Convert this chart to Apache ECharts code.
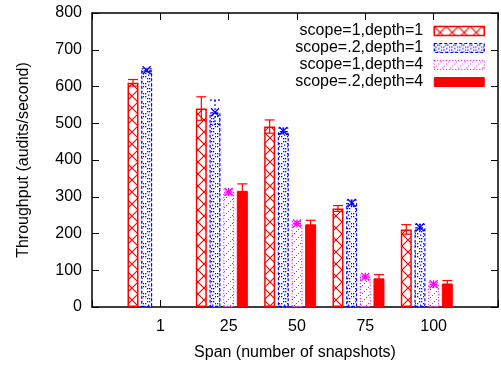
<!DOCTYPE html>
<html>
<head>
<meta charset="utf-8">
<script src="https://cdn.jsdelivr.net/npm/echarts@6/dist/echarts.min.js"></script>
<style>html,body{margin:0;padding:0;background:#fff}#c{width:501px;height:366px}</style>
</head>
<body>
<div id="c"></div>
<script>
// ---- data ----
const categories = ['1', '25', '50', '75', '100'];
const seriesNames = ['scope=1,depth=1', 'scope=.2,depth=1', 'scope=1,depth=4', 'scope=.2,depth=4'];
const s1d1 = [610, 540, 491, 268, 211];
const s1d1Err = [9, 32, 18, 8, 13];
const s2d1 = [644, 530, 479, 283, 217];
const s2d1Err = [4, 33, 8, 8, 8];
const s1d4 = [null, 313, 227, 82, 62];
const s1d4Err = [null, 6, 5, 5, 5];
const s2d4 = [null, 316, 225, 78, 64];
const s2d4Err = [null, 19, 11, 10, 8];
const yTicks = [0, 100, 200, 300, 400, 500, 600, 700, 800];

const FONT = 'Liberation Sans, Arial, Helvetica, sans-serif';
const RED = '#ff0000', BLUE = '#0000ff', MAG = '#ff00ff';

function tile(w, h, draw) {
  const c = document.createElement('canvas');
  c.width = w; c.height = h;
  const g = c.getContext('2d');
  g.fillStyle = '#fff'; g.fillRect(0, 0, w, h);
  draw(g);
  return { image: c, repeat: 'repeat' };
}
const redHatch = tile(12, 12, g => {
  g.strokeStyle = RED; g.lineWidth = 1.2;
  g.beginPath(); g.moveTo(0, 0); g.lineTo(12, 12); g.moveTo(12, 0); g.lineTo(0, 12); g.stroke();
});
const blueDots = tile(8, 10, g => {
  g.fillStyle = BLUE;
  const pts = [[3,1],[5,1],[1,3],[7,3],[1,6],[7,6],[3,8],[5,8],[4,4.5]];
  pts.forEach(p => g.fillRect(p[0], p[1], 1.3, 1.3));
});
const magDots = tile(8, 8, g => {
  g.fillStyle = MAG;
  const pts = [[0,7],[2,5],[4,3],[6,1]];
  pts.forEach(p => g.fillRect(p[0], p[1], 1, 1));
});
const solidRed = RED;

const fills = [redHatch, blueDots, magDots, solidRed];
const borders = [
  { borderColor: RED, borderWidth: 1.5, borderType: 'solid' },
  { borderColor: BLUE, borderWidth: 1.2, borderType: [3, 2] },
  { borderColor: MAG, borderWidth: 1.2, borderType: [1, 2] },
  { borderColor: RED, borderWidth: 1, borderType: 'solid' }
];
const values = [s1d1, s2d1, s1d4, s2d4];
const errs = [s1d1Err, s2d1Err, s1d4Err, s2d4Err];
const OFFSET = 0.2; // spacing of bars within a group (axis units)

const barSeries = values.map((vals, si) => ({
  type: 'bar',
  name: seriesNames[si],
  xAxisIndex: 0, yAxisIndex: 0,
  barWidth: 11,
  barGap: '-100%',
  itemStyle: Object.assign({ color: fills[si] }, borders[si]),
  emphasis: { disabled: true },
  data: vals.map((v, i) => v == null ? [i + (si - 2) * OFFSET, '-'] : [i + (si - 2) * OFFSET, v]),
  z: 2
}));

const errSeries = values.map((vals, si) => ({
  type: 'custom',
  name: seriesNames[si] + ' err',
  xAxisIndex: 0, yAxisIndex: 0,
  z: 5,
  silent: true,
  data: vals.map((v, i) => v == null ? null : [i + (si - 2) * OFFSET, v - errs[si][i], v + errs[si][i], v]).filter(d => d),
  renderItem: function (params, api) {
    const x = api.value(0);
    const lo = api.coord([x, api.value(1)]);
    const hi = api.coord([x, api.value(2)]);
    const mid = api.coord([x, api.value(3)]);
    const color = [RED, BLUE, MAG, RED][si];
    const dash = si === 1 ? [2, 2] : (si === 2 ? [1, 1] : null);
    const style = { stroke: color, lineWidth: 1.2, lineDash: dash };
    const cw = 5;
    const ch = [];
    ch.push({ type: 'line', shape: { x1: hi[0], y1: hi[1], x2: lo[0], y2: lo[1] }, style });
    ch.push({ type: 'line', shape: { x1: hi[0] - cw, y1: hi[1], x2: hi[0] + cw, y2: hi[1] }, style });
    ch.push({ type: 'line', shape: { x1: lo[0] - cw, y1: lo[1], x2: lo[0] + cw, y2: lo[1] }, style });
    if (si === 1 || si === 2) {
      const s = 4;
      const ms = { stroke: color, lineWidth: 1.3 };
      ch.push({ type: 'line', shape: { x1: mid[0] - s, y1: mid[1] - s, x2: mid[0] + s, y2: mid[1] + s }, style: ms });
      ch.push({ type: 'line', shape: { x1: mid[0] - s, y1: mid[1] + s, x2: mid[0] + s, y2: mid[1] - s }, style: ms });
      if (si === 2) {
        ch.push({ type: 'line', shape: { x1: mid[0], y1: mid[1] - s, x2: mid[0], y2: mid[1] + s }, style: ms });
        ch.push({ type: 'line', shape: { x1: mid[0] - s, y1: mid[1], x2: mid[0] + s, y2: mid[1] }, style: ms });
      }
    }
    return { type: 'group', children: ch };
  }
}));

const XMIN = -1, XMAX = 4.942;
const tickStyle = { show: true, inside: true, length: 7, lineStyle: { color: '#000', width: 1 } };
const lineStyle = { show: true, onZero: false, lineStyle: { color: '#000', width: 1.5 } };

const chart = echarts.init(document.getElementById('c'), null, { renderer: 'canvas' });
chart.setOption({
  backgroundColor: '#fff',
  animation: false,
  grid: { left: 92, width: 410, top: 13, bottom: 54, containLabel: false },
  legend: {
    orient: 'vertical',
    right: 11, top: 18,
    align: 'right',
    itemWidth: 50, itemHeight: 9, itemGap: 1,
    icon: 'rect',
    selectedMode: false,
    textStyle: { fontFamily: FONT, fontSize: 16, color: '#000', padding: [0, 6, 0, 0] },
    data: seriesNames.map((n, si) => ({ name: n, itemStyle: Object.assign({ color: fills[si] }, borders[si]) }))
  },
  xAxis: [{
    type: 'value', position: 'bottom', min: XMIN, max: XMAX, interval: 1,
    name: 'Span (number of snapshots)', nameLocation: 'middle', nameGap: 38,
    nameTextStyle: { fontFamily: FONT, fontSize: 16, color: '#000' },
    axisLine: lineStyle, axisTick: tickStyle, splitLine: { show: false },
    axisLabel: {
      fontFamily: FONT, fontSize: 16, color: '#000', margin: 12,
      showMinLabel: true, showMaxLabel: true,
      formatter: v => (Number.isInteger(v) && v >= 0 && v < categories.length) ? categories[v] : ''
    }
  }, {
    type: 'value', position: 'top', min: XMIN, max: XMAX, interval: 1,
    axisLine: lineStyle, axisTick: tickStyle, splitLine: { show: false },
    axisLabel: { show: false }
  }],
  yAxis: [{
    type: 'value', position: 'left', min: yTicks[0], max: yTicks[yTicks.length - 1], interval: 100,
    name: 'Throughput (audits/second)', nameLocation: 'middle', nameGap: 60, nameRotate: 90,
    nameTextStyle: { fontFamily: FONT, fontSize: 16, color: '#000' },
    axisLine: lineStyle, axisTick: tickStyle, splitLine: { show: false },
    axisLabel: { fontFamily: FONT, fontSize: 16, color: '#000', margin: 10 }
  }, {
    type: 'value', position: 'right', min: yTicks[0], max: yTicks[yTicks.length - 1], interval: 100,
    axisLine: lineStyle, axisTick: tickStyle, splitLine: { show: false },
    axisLabel: { show: false }
  }],
  series: barSeries.concat(errSeries)
});
</script>
</body>
</html>
